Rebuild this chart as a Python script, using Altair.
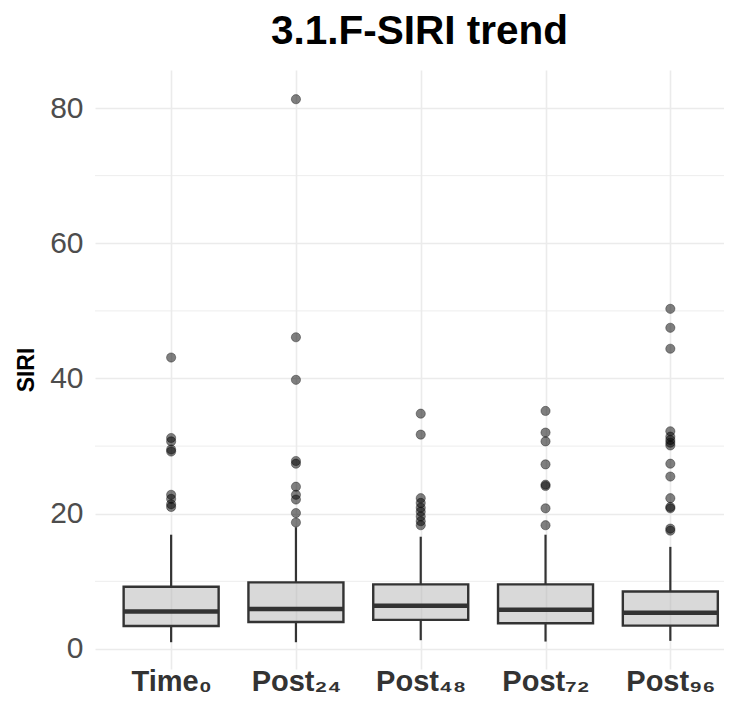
import json
import altair as alt
import pandas as pd

# ---- data ----
categories = ["Time0", "Post24", "Post48", "Post72", "Post96"]
cat_labels = ["Time₀", "Post₂₄", "Post₄₈", "Post₇₂", "Post₉₆"]
positions = [1, 2, 3, 4, 5]

q1 = [3.4, 4.0, 4.3, 3.8, 3.45]
median = [5.55, 5.9, 6.4, 5.8, 5.35]
q3 = [9.2, 9.85, 9.55, 9.55, 8.5]
whisk_lo = [1.0, 1.0, 1.3, 1.1, 1.2]
whisk_hi = [16.9, 18.0, 16.6, 16.9, 15.1]

out_time0 = [43.1, 31.2, 30.7, 29.5, 29.2, 22.8, 22.2, 21.4, 21.0]
out_post24 = [81.3, 46.1, 39.8, 27.8, 27.4, 24.0, 22.8, 22.1, 20.1, 18.7]
out_post48 = [34.8, 31.7, 22.3, 21.6, 20.9, 20.3, 19.6, 18.9, 18.3]
out_post72 = [35.2, 32.0, 30.7, 27.3, 24.3, 24.1, 20.8, 18.3]
out_post96 = [50.3, 47.5, 44.4, 32.2, 31.4, 30.9, 30.5, 30.1, 27.4, 25.5,
              22.3, 21.0, 20.8, 17.8, 17.5]
outliers = [out_time0, out_post24, out_post48, out_post72, out_post96]

major_ticks = [0, 20, 40, 60, 80]
minor_ticks = [10, 30, 50, 70]

# ---- tables ----
box_df = pd.DataFrame({
    "pos": positions, "group": categories, "q1": q1, "median": median,
    "q3": q3, "lo": whisk_lo, "hi": whisk_hi,
})
out_df = pd.DataFrame([
    {"pos": p, "group": g, "value": v}
    for p, g, vals in zip(positions, categories, outliers) for v in vals
])
minor_df = pd.DataFrame({"v": minor_ticks})

FONT = "Liberation Sans"
GRID = "#ebebeb"
DARK = "#333333"

x_scale = alt.Scale(domain=[0.43, 5.39], nice=False, zero=False)
y_scale = alt.Scale(domain=[-2.96, 85.62], nice=False, zero=False)

label_expr = json.dumps(cat_labels, ensure_ascii=False) + "[datum.value - 1]"

x_axis = alt.Axis(values=positions, labelExpr=label_expr, title=None,
                  labelFont=FONT, labelFontSize=29, labelFontWeight="bold",
                  labelColor=DARK, ticks=False, domain=False, grid=True,
                  gridColor=GRID, gridWidth=1.6, labelPadding=-2)
y_axis = alt.Axis(values=major_ticks, title="SIRI", titleFont=FONT,
                  titleFontSize=23, titleFontWeight="bold", titleColor="black",
                  labelFont=FONT, labelFontSize=30, labelColor="#4d4d4d",
                  ticks=False, domain=False, grid=True, gridColor=GRID,
                  gridWidth=1.6, labelPadding=12, titlePadding=11)

base_box = alt.Chart(box_df)

minor = alt.Chart(minor_df).mark_rule(color=GRID, strokeWidth=0.9).encode(
    y=alt.Y("v:Q", scale=y_scale, axis=y_axis)
)

whisk_low = base_box.mark_rule(color=DARK, strokeWidth=2.2).encode(
    x=alt.X("pos:Q", scale=x_scale, axis=x_axis),
    y=alt.Y("lo:Q", scale=y_scale, axis=y_axis),
    y2="q1:Q",
)
whisk_high = base_box.mark_rule(color=DARK, strokeWidth=2.2).encode(
    x=alt.X("pos:Q", scale=x_scale, axis=x_axis),
    y=alt.Y("q3:Q", scale=y_scale, axis=y_axis),
    y2="hi:Q",
)
boxes = base_box.mark_bar(size=95, fill="#b3b3b3", fillOpacity=0.5,
                          stroke=DARK, strokeWidth=2.4).encode(
    x=alt.X("pos:Q", scale=x_scale, axis=x_axis),
    y=alt.Y("q1:Q", scale=y_scale, axis=y_axis),
    y2="q3:Q",
)
medians = base_box.mark_tick(orient="horizontal", size=95, thickness=4.5,
                             color=DARK, opacity=1).encode(
    x=alt.X("pos:Q", scale=x_scale, axis=x_axis),
    y=alt.Y("median:Q", scale=y_scale, axis=y_axis),
)
points = alt.Chart(out_df).mark_point(
    filled=True, size=85, fill="black", fillOpacity=0.5,
    stroke="black", strokeOpacity=0.35, strokeWidth=1, opacity=1,
).encode(
    x=alt.X("pos:Q", scale=x_scale, axis=x_axis),
    y=alt.Y("value:Q", scale=y_scale, axis=y_axis),
)

chart = alt.layer(minor, whisk_low, whisk_high, boxes, medians, points).properties(
    width=629,
    height=599,
    autosize=alt.AutoSizeParams(type="none"),
    padding={"left": 87, "top": 62, "right": 0, "bottom": 32},
    background="white",
    title=alt.Title("3.1.F-SIRI trend", font=FONT, fontSize=40.5,
                    fontWeight="bold", color="black", anchor="middle",
                    dx=10, offset=18),
).configure_view(strokeWidth=0)

chart.save("out.html", embed_options={"renderer": "svg", "actions": False})
